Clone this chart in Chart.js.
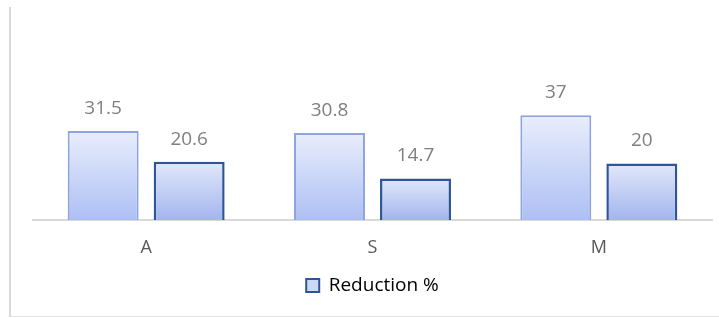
<!DOCTYPE html>
<html>
<head>
<meta charset="utf-8">
<script src="https://cdn.jsdelivr.net/npm/chart.js@4/dist/chart.umd.min.js"></script>
<style>
  html, body { margin: 0; padding: 0; background: #fff; }
  .wrap { position: relative; width: 719px; height: 318px; }
  .frame { position: absolute; left: 9px; top: 7px; right: 0; height: 309px; border-left: 2px solid #d9d9d9; border-bottom: 1px solid #e3e3e3; pointer-events: none; }
  canvas { position: absolute; left: 0; top: 0; }
</style>
</head>
<body>
<div class="wrap">
  <canvas id="chart" width="719" height="318"></canvas>
  <div class="frame"></div>
</div>
<script>
const categories = ["A", "S", "M"];
const firstValues = [31.5, 30.8, 37];
const reductionValues = [20.6, 14.7, 20];
const legendLabel = "Reduction %";

const FONT = "'Open Sans', 'Noto Sans', sans-serif";

// each bar gets its own top-to-bottom gradient, like the Excel fill
const barGradient = (top, bottom) => (ctx) => {
  const chart = ctx.chart;
  const area = chart.chartArea;
  if (!area || ctx.type !== "data") return top;
  const y = chart.scales.y;
  const yTop = y.getPixelForValue(ctx.parsed.y);
  const yBase = y.getPixelForValue(0);
  const g = chart.ctx.createLinearGradient(0, yTop, 0, yBase);
  g.addColorStop(0, top);
  g.addColorStop(1, bottom);
  return g;
};

const valueLabels = {
  id: "valueLabels",
  afterDatasetsDraw(chart) {
    const { ctx } = chart;
    ctx.save();
    ctx.font = `19px ${FONT}`;
    ctx.fillStyle = "#7f7f7f";
    ctx.textAlign = "center";
    ctx.textBaseline = "alphabetic";
    chart.data.datasets.forEach((ds, i) => {
      chart.getDatasetMeta(i).data.forEach((bar, j) => {
        ctx.fillText(String(ds.data[j]), bar.x, bar.y - 17);
      });
    });
    ctx.restore();
  },
};

new Chart(document.getElementById("chart"), {
  type: "bar",
  data: {
    labels: categories,
    datasets: [
      {
        label: "",
        data: firstValues,
        backgroundColor: barGradient("#e9eefc", "#adbff4"),
        borderColor: "#8fa4de",
        borderWidth: 2,
        borderSkipped: "bottom",
      },
      {
        label: legendLabel,
        data: reductionValues,
        backgroundColor: barGradient("#e2e8fa", "#a3b5ee"),
        borderColor: "#2f5597",
        borderWidth: 2.5,
        borderSkipped: "bottom",
      },
    ],
  },
  options: {
    responsive: false,
    animation: false,
    layout: { padding: { top: 22, left: 33, right: 7, bottom: 13 } },
    categoryPercentage: 0.76,
    barPercentage: 0.825,
    plugins: {
      tooltip: { enabled: false },
      legend: {
        position: "bottom",
        labels: {
          font: { family: FONT, size: 19 },
          color: "#404040",
          boxWidth: 13,
          boxHeight: 13,
          padding: 0,
          filter: (item) => item.text !== "",
          generateLabels: (chart) => chart.data.datasets.map((ds, i) => ({
            text: ds.label,
            datasetIndex: i,
            fillStyle: "#cdd8f7",
            strokeStyle: "#2f5597",
            lineWidth: 2,
          })),
        },
      },
    },
    scales: {
      x: {
        grid: { display: false, drawTicks: false },
        border: { color: "#d9d9d9", width: 2 },
        ticks: { font: { family: FONT, size: 18, lineHeight: 1 }, color: "#595959", padding: 19 },
      },
      y: {
        display: false,
        min: 0,
        max: 70,
      },
    },
  },
  plugins: [valueLabels],
});
</script>
</body>
</html>
